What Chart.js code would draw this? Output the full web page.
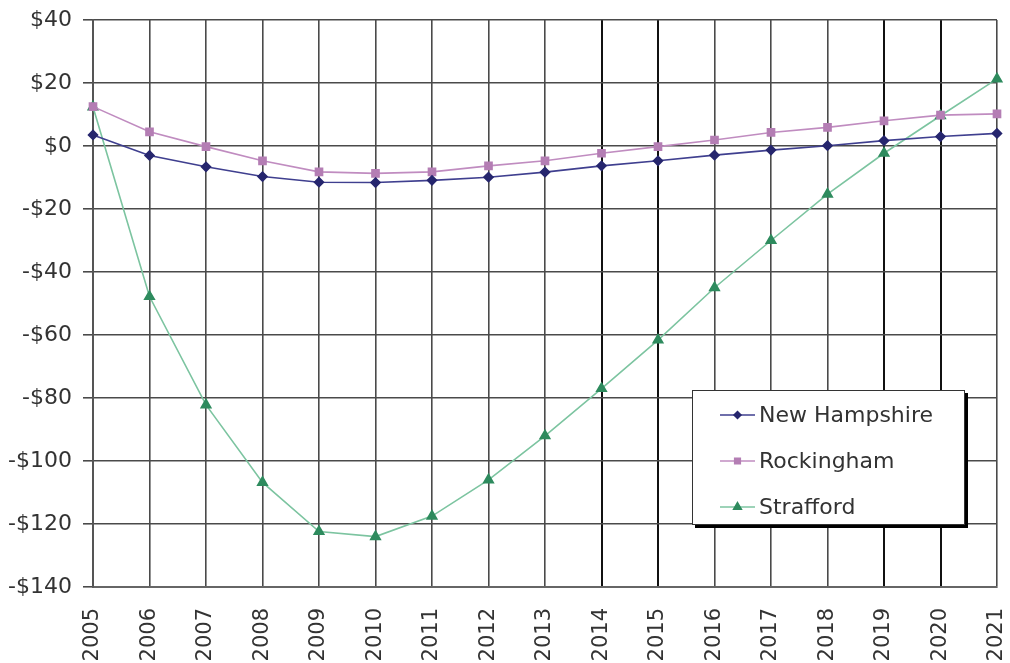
<!DOCTYPE html>
<html>
<head>
<meta charset="utf-8">
<style>
  html, body { margin: 0; padding: 0; background: #ffffff; }
  #wrap { width: 1010px; height: 663px; position: relative; }
</style>
<script src="https://cdn.jsdelivr.net/npm/chart.js@4.4.1/dist/chart.umd.min.js"></script>
</head>
<body>
<div id="wrap"><canvas id="chart" width="1010" height="663"></canvas></div>
<script>
// Categories (years)
const years = ['2005', '2006', '2007', '2008', '2009', '2010', '2011', '2012', '2013',
               '2014', '2015', '2016', '2017', '2018', '2019', '2020', '2021'];

// Series values (dollars)
const newHampshire = [3.5, -3, -6.6, -9.7, -11.5, -11.6, -10.9, -9.9, -8.3, -6.3, -4.7, -2.9, -1.3, 0.1, 1.7, 3, 4];
const rockingham   = [12.5, 4.5, -0.2, -4.7, -8.2, -8.7, -8.2, -6.3, -4.7, -2.3, -0.2, 1.9, 4.3, 5.9, 8, 9.8, 10.2];
const strafford    = [12.4, -47.8, -82.2, -106.8, -122.4, -124, -117.5, -106, -92, -77, -61.6, -45, -30, -15.3, -2.3, 9.6, 21.3];

// Y axis range and step
const yMin = -140;
const yMax = 40;
const yStep = 20;

const seriesNames = ['New Hampshire', 'Rockingham', 'Strafford'];

const FONT = '"DejaVu Sans", "Liberation Sans", Arial, sans-serif';

function money(v) {
  return v < 0 ? '-$' + Math.abs(v) : '$' + v;
}

// Legend box drawn inside the plot area, with a drop shadow
const boxLegend = {
  id: 'boxLegend',
  afterDatasetsDraw(chart) {
    const ctx = chart.ctx;
    const x = 692, y = 390, w = 273, h = 135;
    ctx.save();
    // shadow
    ctx.fillStyle = '#000000';
    ctx.fillRect(x + 3, y + 3, w, h);
    // box
    ctx.fillStyle = '#ffffff';
    ctx.fillRect(x, y, w, h);
    ctx.strokeStyle = '#333333';
    ctx.lineWidth = 1;
    ctx.strokeRect(x + 0.5, y + 0.5, w - 1, h - 1);

    const rows = [415, 461, 507];
    chart.data.datasets.forEach((ds, i) => {
      const cy = rows[i];
      ctx.strokeStyle = ds.borderColor;
      ctx.lineWidth = 1.5;
      ctx.beginPath();
      ctx.moveTo(720, cy);
      ctx.lineTo(755, cy);
      ctx.stroke();
      ctx.fillStyle = ds.pointBackgroundColor;
      ctx.strokeStyle = ds.pointBorderColor;
      Chart.helpers.drawPoint(ctx, {
        pointStyle: ds.pointStyle,
        radius: ds.pointRadius - 1,
        borderWidth: 1
      }, 737.5, cy);
      ctx.fillStyle = '#333333';
      ctx.font = '22px ' + FONT;
      ctx.textAlign = 'left';
      ctx.textBaseline = 'middle';
      ctx.fillText(ds.label, 759, cy + 1);
    });
    ctx.restore();
  }
};

const darkCols = [9, 10, 14, 15];

new Chart(document.getElementById('chart'), {
  type: 'line',
  data: {
    labels: years,
    datasets: [
      {
        label: seriesNames[0],
        data: newHampshire,
        borderColor: '#3f3f8f',
        backgroundColor: '#26266e',
        pointBackgroundColor: '#26266e',
        pointBorderColor: '#26266e',
        pointStyle: 'rectRot',
        pointRadius: 4.5,
        borderWidth: 1.6,
        tension: 0,
        clip: false
      },
      {
        label: seriesNames[1],
        data: rockingham,
        borderColor: '#c08cc0',
        backgroundColor: '#b47eb4',
        pointBackgroundColor: '#b47eb4',
        pointBorderColor: '#b47eb4',
        pointStyle: 'rect',
        pointRadius: 5,
        borderWidth: 1.6,
        tension: 0,
        clip: false
      },
      {
        label: seriesNames[2],
        data: strafford,
        borderColor: '#7cc4a0',
        backgroundColor: '#2e8b5e',
        pointBackgroundColor: '#2e8b5e',
        pointBorderColor: '#2e8b5e',
        pointStyle: 'triangle',
        pointRadius: 5.5,
        borderWidth: 1.6,
        tension: 0,
        clip: false
      }
    ]
  },
  options: {
    responsive: false,
    animation: false,
    layout: { padding: { top: 20, right: 13, left: 0, bottom: 0 } },
    plugins: {
      legend: { display: false },
      tooltip: { enabled: false }
    },
    scales: {
      x: {
        type: 'category',
        offset: false,
        grid: {
          display: true,
          drawTicks: false,
          color: (c) => darkCols.includes(c.index) ? '#111111' : '#4a4a4a',
          lineWidth: (c) => darkCols.includes(c.index) ? 2 : 1.6
        },
        border: { display: true, color: '#666666', width: 2 },
        ticks: {
          autoSkip: false,
          minRotation: 90,
          maxRotation: 90,
          padding: 21,
          color: '#333333',
          font: { family: FONT, size: 21 }
        },
        afterFit(scale) {
          scale.height = 76;
          scale.paddingLeft = 0;
          scale.paddingRight = 0;
        }
      },
      y: {
        min: yMin,
        max: yMax,
        grid: {
          color: '#4a4a4a',
          lineWidth: 1.6,
          tickLength: 10,
          tickColor: '#4a4a4a'
        },
        border: { display: true, color: '#555555', width: 2 },
        ticks: {
          stepSize: yStep,
          padding: 11,
          color: '#333333',
          font: { family: FONT, size: 22 },
          callback: (v) => money(v)
        },
        afterFit(scale) {
          scale.width = 93;
          scale.paddingTop = 0;
          scale.paddingBottom = 0;
        }
      }
    }
  },
  plugins: [boxLegend]
});
</script>
</body>
</html>
